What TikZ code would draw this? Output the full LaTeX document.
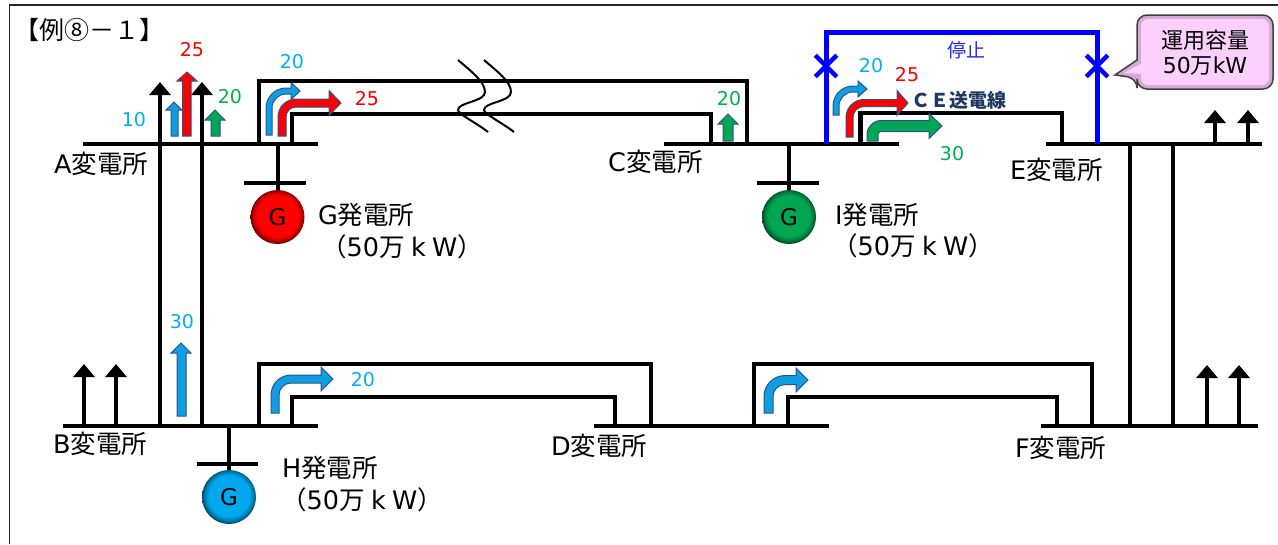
\documentclass[tikz,border=0pt]{standalone}
\usepackage{fontspec}
\setmainfont{DejaVu Sans}
\newfontfamily\cjk{Noto Sans CJK JP}
\usetikzlibrary{arrows.meta,shapes.misc}
\definecolor{flowblue}{HTML}{0F9EE0}
\definecolor{flowgreen}{HTML}{00A651}
\definecolor{flowedge}{HTML}{2F528F}
\definecolor{ballb}{HTML}{00A8EE}
\definecolor{txtcyan}{HTML}{00B0F0}
\definecolor{txtgreen}{HTML}{00B050}
\definecolor{navytxt}{HTML}{1F3864}
\definecolor{stopblue}{HTML}{0000FF}
\pgfdeclareradialshading{ballred}{\pgfpoint{0bp}{1.5bp}}{color(0bp)=(red);color(19bp)=(red);color(23bp)=(red!70!black);color(26bp)=(red!35!black);color(50bp)=(red!35!black)}
\pgfdeclareradialshading{ballgreen}{\pgfpoint{0bp}{1.5bp}}{color(0bp)=(flowgreen);color(19bp)=(flowgreen);color(23bp)=(flowgreen!70!black);color(26bp)=(flowgreen!35!black);color(50bp)=(flowgreen!35!black)}
\pgfdeclareradialshading{ballblue}{\pgfpoint{0bp}{1.5bp}}{color(0bp)=(ballb);color(19bp)=(ballb);color(23bp)=(ballb!70!black);color(26bp)=(ballb!35!black);color(50bp)=(ballb!35!black)}
% left right bottom ycentre tip headbase headhalf fill outer-radius
\newcommand{\bentflow}[9]{%
  \pgfmathsetmacro{\thk}{#2-#1}%
  \pgfmathsetmacro{\yt}{#4-\thk/2}%
  \pgfmathsetmacro{\yb}{#4+\thk/2}%
  \pgfmathsetmacro{\ri}{#9-\thk}%
  \draw[flowline,fill=#8] (#1,#3) -- (#1,{\yt+#9})
    .. controls (#1,{\yt+0.45*#9}) and ({#1+0.45*#9},\yt) .. ({#1+#9},\yt)
    -- (#6,\yt) -- (#6,{#4-#7}) -- (#5,#4) -- (#6,{#4+#7}) -- (#6,\yb) -- ({#2+\ri},\yb)
    .. controls ({#2+0.45*\ri},\yb) and (#2,{\yb+0.45*\ri}) .. (#2,{\yb+\ri})
    -- (#2,#3) -- cycle;}
% shaftleft shaftright bottom top headbase headleft headright fill
\newcommand{\upflow}[8]{%
  \draw[flowline,fill=#8] (#1,#3) -- (#1,#5) -- (#6,#5) -- ({(#6+#7)/2},#4) -- (#7,#5) -- (#2,#5) -- (#2,#3) -- cycle;}
\newcommand{\capacity}{{\cjk （}50{\cjk 万}\hspace{.25em}k\hspace{.25em}W{\cjk ）}}
\tikzset{
  bus/.style={line width=4pt,black},
  feeder/.style={line width=4pt,black,line join=miter},
  stopline/.style={line width=5pt,stopblue,line join=miter},
  loadarrow/.style={line width=4pt,black,-{Triangle[width=21pt,length=13pt]}},
  flowline/.style={draw=flowedge,line width=1pt,line join=miter},
  txt/.style={inner sep=0pt,font=\fontsize{25.5}{26}\selectfont,black,anchor=west},
  num/.style={inner sep=0pt,font=\fontsize{19}{19}\selectfont},
  gen/.style={circle,inner sep=0pt,minimum size=54pt,font=\fontsize{23}{23}\selectfont},
  stopcross/.style={cross out,draw=stopblue,line width=4.5pt,inner sep=0pt,minimum size=17pt},
  breakline/.style={line width=2pt,black},
}
\begin{document}
\begin{tikzpicture}[x=1pt,y=-1pt]
\useasboundingbox (0,0) rectangle (1278,544);
\fill[white] (0,0) rectangle (1278,544);
% frame
\coordinate (fa) at (9.5,544); \coordinate (fb) at (9.5,5); \coordinate (fc) at (1278,5);
\draw[line width=1.5pt,black!85] (fa) -- (fb) -- (fc);
% bus ends
\coordinate (Aw) at (83,144); \coordinate (Ae) at (318,144);
\coordinate (Cw) at (664,144); \coordinate (Ce) at (899,144);
\coordinate (Ew) at (1046,144); \coordinate (Ee) at (1262,144);
\coordinate (Bw) at (63,426); \coordinate (Be) at (318,426);
\coordinate (Dw) at (594,426); \coordinate (De) at (829,426);
\coordinate (Fw) at (1041,426); \coordinate (Fe) at (1258,426);
\foreach \p/\q in {Aw/Ae,Cw/Ce,Ew/Ee,Bw/Be,Dw/De,Fw/Fe} \draw[bus] (\p) -- (\q);
% A-B
\coordinate (ab1b) at (160,426); \coordinate (ab1t) at (160,82);
\coordinate (ab2b) at (202,426); \coordinate (ab2t) at (202,82);
\draw[loadarrow] (ab1b) -- (ab1t);
\draw[loadarrow] (ab2b) -- (ab2t);
% E-F
\coordinate (ef1b) at (1130,426); \coordinate (ef1t) at (1130,144);
\coordinate (ef2b) at (1173,426); \coordinate (ef2t) at (1173,144);
\draw[bus] (ef1b) -- (ef1t);
\draw[bus] (ef2b) -- (ef2t);
% loads
\foreach \n/\x/\ya/\yb in {e1/1215/144/110,e2/1248/144/110,b1/84/426/364,b2/116/426/364,f1/1207/426/365,f2/1239/426/365}{
  \coordinate (l\n a) at (\x,\ya); \coordinate (l\n b) at (\x,\yb);
  \draw[loadarrow] (l\n a) -- (l\n b);
}
% double circuits
\coordinate (ac1) at (258.5,144); \coordinate (ac2) at (258.5,81); \coordinate (ac3) at (746.5,81); \coordinate (ac4) at (746.5,144);
\draw[feeder] (ac1) -- (ac2) -- (ac3) -- (ac4);
\coordinate (ac5) at (292,144); \coordinate (ac6) at (292,114); \coordinate (ac7) at (710.5,114); \coordinate (ac8) at (710.5,144);
\draw[feeder] (ac5) -- (ac6) -- (ac7) -- (ac8);
\coordinate (bd1) at (258.5,426); \coordinate (bd2) at (258.5,363.5); \coordinate (bd3) at (651,363.5); \coordinate (bd4) at (651,426);
\draw[feeder] (bd1) -- (bd2) -- (bd3) -- (bd4);
\coordinate (bd5) at (292,426); \coordinate (bd6) at (292,397); \coordinate (bd7) at (615,397); \coordinate (bd8) at (615,426);
\draw[feeder] (bd5) -- (bd6) -- (bd7) -- (bd8);
\coordinate (df1) at (754,426); \coordinate (df2) at (754,363.5); \coordinate (df3) at (1092,363.5); \coordinate (df4) at (1092,426);
\draw[feeder] (df1) -- (df2) -- (df3) -- (df4);
\coordinate (df5) at (788,426); \coordinate (df6) at (788,397); \coordinate (df7) at (1057,397); \coordinate (df8) at (1057,426);
\draw[feeder] (df5) -- (df6) -- (df7) -- (df8);
% CE line
\coordinate (ce1) at (860.5,144); \coordinate (ce2) at (860.5,113); \coordinate (ce3) at (1062,113); \coordinate (ce4) at (1062,144);
\draw[feeder,line width=4.5pt] (ce1) -- (ce2) -- (ce3) -- (ce4);
% stopped line
\coordinate (st1) at (826,144); \coordinate (st2) at (826,32); \coordinate (st3) at (1097,32); \coordinate (st4) at (1097,144);
\draw[stopline] (st1) -- (st2) -- (st3) -- (st4);
\node[stopcross] (x1) at (826,66) {};
\node[stopcross] (x2) at (1097,66) {};
% break marks
\foreach \dx in {0,26}{
  \begin{scope}[xshift=\dx pt]
  \draw[breakline] (458,60) .. controls (472,72) and (485,82) .. (485,92) .. controls (485,102) and (458,102) .. (458,110) .. controls (458,114) and (475,122) .. (488,132);
  \end{scope}
}
% generators
\coordinate (gt) at (277.5,144); \coordinate (gm) at (277.5,183); \coordinate (gl) at (244,183); \coordinate (gr) at (306,183);
\coordinate (it) at (789,144); \coordinate (im) at (789,183); \coordinate (il) at (757,183); \coordinate (ir) at (819,183);
\coordinate (ht) at (229,426); \coordinate (hm) at (229,464); \coordinate (hl) at (197,464); \coordinate (hr) at (258,464);
\node[gen,shading=ballred] (G) at (277.5,217) {G};
\node[gen,shading=ballgreen] (I) at (789,217) {G};
\node[gen,shading=ballblue] (H) at (229,497) {G};
\draw[bus] (gt) -- (gm); \draw[bus] (gl) -- (gr); \draw[bus] (gm) -- (G);
\draw[bus] (it) -- (im); \draw[bus] (il) -- (ir); \draw[bus] (im) -- (I);
\draw[bus] (ht) -- (hm); \draw[bus] (hl) -- (hr); \draw[bus] (hm) -- (H);
% straight flow arrows
\upflow{171}{178}{136}{102}{110}{166}{182}{flowblue}
\upflow{182.5}{191}{136}{72}{81}{177}{197}{red}
\upflow{211}{220}{136}{110}{120}{205}{225}{flowgreen}
\upflow{723}{733}{141}{114}{124}{718}{738}{flowgreen}
\upflow{177}{186}{416}{343}{353}{171}{191}{flowblue}
% bent flow arrows
\bentflow{266}{272}{135}{91}{300}{291}{8.5}{flowblue}{20}
\bentflow{278}{286}{136}{103}{341}{329}{12.5}{red}{18}
\bentflow{271}{279}{413}{379}{333}{321}{12}{flowblue}{20}
\bentflow{764}{773}{413}{380}{808}{796}{12}{flowblue}{21}
\bentflow{833}{839}{115}{89}{867}{858}{8}{flowblue}{20}
\bentflow{846}{853}{137}{103}{908}{897}{12.5}{red}{18}
\bentflow{867}{878}{141}{126}{942}{929}{12.5}{flowgreen}{14}
% callout
\coordinate (cbtip) at (1115,75);
\draw[line width=1.5pt,draw=black!75,fill={rgb,255:red,214;green,170;blue,214},rounded corners=10pt]
  (1137,15) -- (1273,15) -- (1273,89) -- (1137,89) -- (1137,78) [sharp corners] -- (cbtip) -- (1137,60) [rounded corners=10pt] -- cycle;
\fill[fill={rgb,255:red,252;green,208;blue,252},rounded corners=7pt] (1141,19) rectangle (1269,85);
\path[fill={rgb,255:red,252;green,208;blue,252}] (1144,62) -- (1124,73) -- (1144,74) -- cycle;
\node[inner sep=0pt,font=\fontsize{22}{22}\selectfont,black] (cb1) at (1205,40) {\cjk 運用容量};
\node[inner sep=0pt,font=\fontsize{22}{22}\selectfont,black] (cb2) at (1205,66) {50{\cjk 万}kW};
% texts
\node[txt,font=\fontsize{25}{25}\selectfont] (title) at (14,30) {\cjk 【例⑧－１】};
\node[txt] (tA) at (54,164) {A{\cjk 変電所}};
\node[txt] (tB) at (53,444) {B{\cjk 変電所}};
\node[txt] (tC) at (608,162) {C{\cjk 変電所}};
\node[txt] (tD) at (551,446) {D{\cjk 変電所}};
\node[txt] (tE) at (1010,170) {E{\cjk 変電所}};
\node[txt] (tF) at (1015,448) {F{\cjk 変電所}};
\node[txt] (tG) at (318,215) {G{\cjk 発電所}};
\node[txt] (tG2) at (321,247) {\capacity};
\node[txt] (tI) at (835,215) {I{\cjk 発電所}};
\node[txt] (tI2) at (832,246) {\capacity};
\node[txt] (tH) at (282,468) {H{\cjk 発電所}};
\node[txt] (tH2) at (281,500) {\capacity};
% numbers
\node[num,red] (n1) at (192,50) {25};
\node[num,txtcyan] (n2) at (134,120) {10};
\node[num,txtgreen] (n3) at (230,97) {20};
\node[num,txtcyan] (n4) at (292,62) {20};
\node[num,red] (n5) at (367,99) {25};
\node[num,txtgreen] (n6) at (729,99) {20};
\node[num,txtcyan] (n7) at (871,66) {20};
\node[num,red] (n8) at (907,75) {25};
\node[num,txtgreen] (n9) at (952,154) {30};
\node[num,txtcyan] (n10) at (182,322) {30};
\node[num,txtcyan] (n11) at (363,380) {20};
\node[inner sep=0pt,font=\fontsize{19}{19}\selectfont,text=stopblue!85!white] (stoplabel) at (966,50) {\cjk 停止};
\node[inner sep=0pt,font=\fontsize{19}{19}\selectfont\bfseries,text=navytxt] (celabel) at (959,100) {\cjk ＣＥ送電線};
\end{tikzpicture}
\end{document}
